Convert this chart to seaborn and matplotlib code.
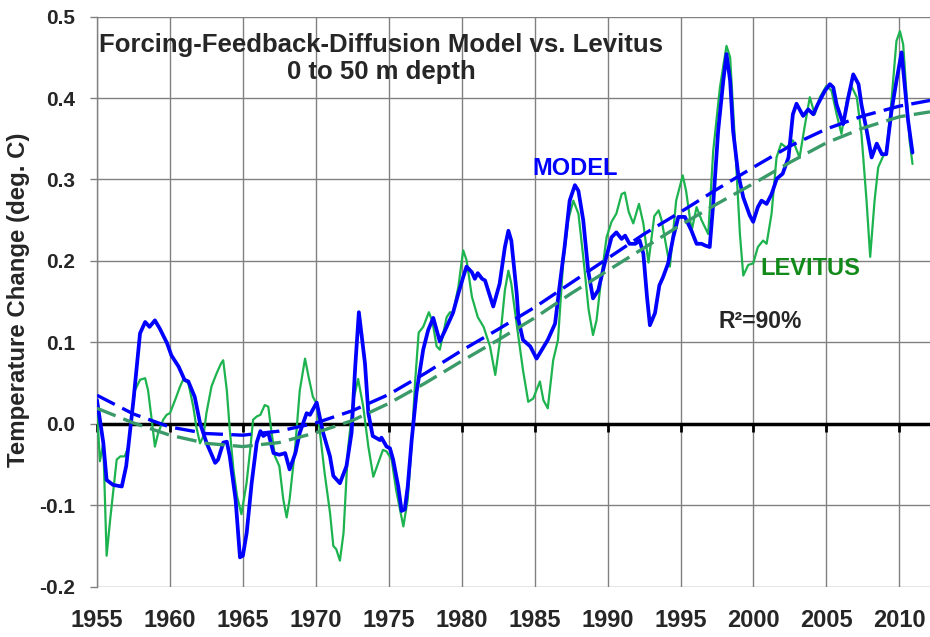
import matplotlib
matplotlib.use("Agg")
import matplotlib.pyplot as plt
import seaborn as sns

# model run (blue)
model_year = [
    1955.0, 1955.43, 1955.66, 1956.1, 1956.7, 1957.0, 1957.5, 1957.95, 1958.3, 1958.6,
    1958.97, 1959.3, 1959.8, 1960.1, 1960.6, 1961.0, 1961.26, 1961.7, 1962.06, 1962.5,
    1963.1, 1963.3, 1963.66, 1963.9, 1964.1, 1964.5, 1964.8, 1965.0, 1965.26, 1965.6,
    1965.95, 1966.2, 1966.4, 1966.74, 1967.1, 1967.5, 1967.9, 1968.2, 1968.6, 1968.9,
    1969.37, 1969.6, 1970.06, 1970.5, 1970.97, 1971.2, 1971.65, 1972.1, 1972.45, 1972.7,
    1972.95, 1973.37, 1973.6, 1973.9, 1974.4, 1974.5, 1974.85, 1975.08, 1975.3, 1975.65,
    1975.88, 1976.1, 1976.3, 1976.57, 1976.9, 1977.36, 1977.7, 1978.05, 1978.5, 1978.97,
    1979.4, 1979.77, 1980.1, 1980.33, 1980.7, 1980.9, 1981.1, 1981.4, 1981.6, 1982.16,
    1982.6, 1982.96, 1983.2, 1983.4, 1983.77, 1983.9, 1984.2, 1984.7, 1985.13, 1985.5,
    1985.9, 1986.4, 1986.7, 1987.05, 1987.4, 1987.76, 1988.0, 1988.33, 1988.67, 1989.0,
    1989.36, 1989.8, 1990.27, 1990.6, 1990.96, 1991.2, 1991.5, 1991.9, 1992.2, 1992.45,
    1992.7, 1992.9, 1993.25, 1993.55, 1993.8, 1994.15, 1994.5, 1994.85, 1995.3, 1995.75,
    1996.1, 1996.44, 1996.67, 1997.0, 1997.24, 1997.58, 1997.93, 1998.15, 1998.4, 1998.6,
    1998.95, 1999.3, 1999.74, 1999.98, 2000.3, 2000.55, 2000.9, 2001.24, 2001.6, 2002.0,
    2002.4, 2002.7, 2002.95, 2003.4, 2003.75, 2004.1, 2004.4, 2004.9, 2005.24, 2005.47,
    2005.7, 2006.15, 2006.5, 2006.84, 2007.2, 2007.4, 2007.76, 2008.1, 2008.45, 2008.8,
    2009.1, 2009.46, 2009.8, 2010.15, 2010.38, 2010.6, 2010.9,
]
model_temp = [
    0.029, -0.023, -0.069, -0.075, -0.077, -0.052, 0.029, 0.111, 0.125, 0.119,
    0.127, 0.117, 0.099, 0.084, 0.070, 0.054, 0.052, 0.033, 0.001, -0.023,
    -0.048, -0.044, -0.023, -0.022, -0.040, -0.093, -0.164, -0.162, -0.134, -0.073,
    -0.023, -0.009, -0.015, -0.011, -0.036, -0.038, -0.036, -0.056, -0.036, -0.011,
    0.013, 0.011, 0.026, -0.011, -0.040, -0.064, -0.073, -0.052, -0.011, 0.070,
    0.137, 0.074, 0.013, -0.015, -0.020, -0.017, -0.028, -0.030, -0.044, -0.077,
    -0.107, -0.105, -0.077, -0.020, 0.038, 0.091, 0.115, 0.130, 0.101, 0.119,
    0.136, 0.160, 0.180, 0.193, 0.186, 0.178, 0.185, 0.178, 0.176, 0.144,
    0.172, 0.217, 0.237, 0.225, 0.160, 0.127, 0.103, 0.095, 0.080, 0.091,
    0.103, 0.123, 0.168, 0.217, 0.274, 0.293, 0.286, 0.250, 0.188, 0.154,
    0.164, 0.197, 0.229, 0.235, 0.227, 0.231, 0.221, 0.221, 0.225, 0.209,
    0.156, 0.121, 0.136, 0.170, 0.180, 0.197, 0.229, 0.254, 0.254, 0.237,
    0.221, 0.221, 0.219, 0.217, 0.270, 0.360, 0.421, 0.454, 0.421, 0.360,
    0.307, 0.278, 0.256, 0.248, 0.266, 0.274, 0.270, 0.282, 0.301, 0.307,
    0.327, 0.380, 0.393, 0.378, 0.386, 0.380, 0.392, 0.409, 0.417, 0.413,
    0.392, 0.368, 0.401, 0.429, 0.417, 0.392, 0.360, 0.327, 0.344, 0.331,
    0.331, 0.384, 0.421, 0.456, 0.413, 0.372, 0.333,
]

# Levitus observations (green)
levitus_year = [
    1955.0, 1955.2, 1955.43, 1955.66, 1955.9, 1956.1, 1956.35, 1956.6, 1956.9, 1957.15,
    1957.4, 1957.6, 1957.95, 1958.3, 1958.5, 1958.75, 1958.97, 1959.2, 1959.54, 1959.77,
    1960.0, 1960.35, 1960.7, 1960.9, 1961.26, 1961.6, 1961.8, 1962.06, 1962.3, 1962.5,
    1962.85, 1963.2, 1963.5, 1963.65, 1963.9, 1964.1, 1964.35, 1964.6, 1964.9, 1965.25,
    1965.5, 1965.7, 1965.95, 1966.2, 1966.5, 1966.74, 1966.97, 1967.2, 1967.5, 1967.77,
    1968.0, 1968.2, 1968.57, 1968.9, 1969.26, 1969.5, 1969.8, 1970.05, 1970.28, 1970.6,
    1970.97, 1971.2, 1971.4, 1971.65, 1971.9, 1972.2, 1972.57, 1972.9, 1973.25, 1973.6,
    1973.94, 1974.28, 1974.6, 1974.85, 1975.2, 1975.5, 1976.0, 1976.3, 1976.57, 1976.8,
    1977.05, 1977.36, 1977.75, 1978.0, 1978.28, 1978.5, 1978.97, 1979.2, 1979.4, 1979.77,
    1980.1, 1980.33, 1980.7, 1981.1, 1981.5, 1981.94, 1982.3, 1982.6, 1982.96, 1983.2,
    1983.4, 1983.8, 1984.2, 1984.56, 1984.9, 1985.36, 1985.6, 1985.9, 1986.27, 1986.6,
    1986.95, 1987.3, 1987.65, 1988.0, 1988.33, 1988.7, 1989.0, 1989.24, 1989.6, 1989.93,
    1990.27, 1990.6, 1990.96, 1991.18, 1991.45, 1991.76, 1992.15, 1992.45, 1992.8, 1993.2,
    1993.5, 1993.7, 1994.27, 1994.7, 1995.15, 1995.38, 1995.76, 1996.1, 1996.44, 1996.9,
    1997.24, 1997.7, 1998.15, 1998.4, 1998.7, 1999.07, 1999.3, 1999.64, 1999.98, 2000.3,
    2000.66, 2000.9, 2001.24, 2001.58, 2001.9, 2002.26, 2002.7, 2003.16, 2003.5, 2003.86,
    2004.2, 2004.55, 2005.0, 2005.35, 2005.7, 2006.03, 2006.4, 2006.7, 2007.08, 2007.4,
    2007.75, 2008.0, 2008.3, 2008.55, 2008.9, 2009.1, 2009.46, 2009.8, 2010.04, 2010.26,
    2010.5, 2010.7, 2010.9,
]
levitus_temp = [
    0.017, -0.046, -0.024, -0.162, -0.118, -0.085, -0.044, -0.040, -0.040, -0.028,
    0.013, 0.041, 0.054, 0.056, 0.041, 0.005, -0.028, -0.011, 0.005, 0.011,
    0.013, 0.029, 0.046, 0.054, 0.050, 0.021, -0.003, -0.024, -0.015, 0.013,
    0.046, 0.062, 0.074, 0.078, 0.041, -0.007, -0.056, -0.089, -0.111, -0.073,
    -0.032, 0.005, 0.009, 0.011, 0.023, 0.021, -0.011, -0.040, -0.052, -0.093,
    -0.115, -0.093, -0.032, 0.041, 0.080, 0.058, 0.033, 0.025, -0.011, -0.060,
    -0.109, -0.150, -0.154, -0.168, -0.134, -0.032, 0.029, 0.055, 0.021, -0.028,
    -0.065, -0.048, -0.032, -0.034, -0.044, -0.081, -0.126, -0.093, -0.024, 0.050,
    0.112, 0.119, 0.137, 0.125, 0.095, 0.091, 0.131, 0.137, 0.136, 0.168,
    0.213, 0.201, 0.156, 0.131, 0.119, 0.095, 0.060, 0.099, 0.164, 0.188,
    0.172, 0.118, 0.066, 0.027, 0.031, 0.052, 0.029, 0.019, 0.078, 0.103,
    0.197, 0.250, 0.274, 0.258, 0.205, 0.140, 0.109, 0.127, 0.184, 0.229,
    0.248, 0.258, 0.282, 0.284, 0.260, 0.246, 0.270, 0.246, 0.198, 0.255,
    0.262, 0.250, 0.193, 0.274, 0.305, 0.286, 0.237, 0.266, 0.250, 0.233,
    0.335, 0.413, 0.464, 0.450, 0.356, 0.233, 0.182, 0.195, 0.197, 0.217,
    0.225, 0.221, 0.258, 0.327, 0.344, 0.339, 0.348, 0.327, 0.364, 0.401,
    0.380, 0.401, 0.415, 0.409, 0.380, 0.356, 0.397, 0.415, 0.401, 0.356,
    0.274, 0.205, 0.274, 0.315, 0.329, 0.331, 0.397, 0.470, 0.482, 0.466,
    0.401, 0.348, 0.319,
]

# fitted trend curves (dashed)
trend_year = [1955, 1957.5, 1960, 1962.5, 1965, 1967.5, 1970, 1972.5, 1975, 1977.5,
              1980, 1982.5, 1985, 1987.5, 1990, 1992.5, 1995, 1997.5, 2000, 2002.5,
              2005, 2007.5, 2010, 2012.1]
model_trend = [0.035, 0.012, -0.004, -0.012, -0.014, -0.009, 0.001, 0.016, 0.036, 0.062,
               0.090, 0.116, 0.143, 0.173, 0.203, 0.233, 0.260, 0.288, 0.315, 0.341,
               0.362, 0.378, 0.390, 0.397]
levitus_trend = [0.019, 0.001, -0.014, -0.024, -0.028, -0.023, -0.011, 0.004, 0.025, 0.050,
                 0.077, 0.103, 0.130, 0.160, 0.188, 0.216, 0.244, 0.270, 0.295, 0.321,
                 0.345, 0.363, 0.377, 0.383]

year_ticks = [1955, 1960, 1965, 1970, 1975, 1980, 1985, 1990, 1995, 2000, 2005, 2010]
temp_ticks = [-0.2, -0.1, 0.0, 0.1, 0.2, 0.3, 0.4, 0.5]


def main():
    sns.set_style("white")
    plt.rcParams['font.family'] = ['Liberation Sans', 'DejaVu Sans']

    fig = plt.figure(figsize=(9.3, 6.37), dpi=100)
    ax = fig.add_axes([0.1043, 0.079, 0.8957, 0.895])

    blue = '#0000ff'
    green = '#1db34f'
    green_dash = '#3a9a68'

    # black zero line with small tick marks hanging below it
    ax.axhline(0, color='black', lw=2.5, zorder=1.5)
    ax.plot(year_ticks, [0] * len(year_ticks), ls='none', marker=3, ms=6, mew=2,
            color='black', zorder=1.5, clip_on=False)

    sns.lineplot(x=levitus_year, y=levitus_temp, ax=ax, color=green, lw=1.6,
                 sort=False, estimator=None, zorder=3)
    sns.lineplot(x=model_year, y=model_temp, ax=ax, color=blue, lw=2.7,
                 sort=False, estimator=None, zorder=4)
    sns.lineplot(x=trend_year, y=levitus_trend, ax=ax, color=green_dash, lw=2.4,
                 linestyle=(0, (6, 2.5)), sort=False, estimator=None, zorder=5)
    sns.lineplot(x=trend_year, y=model_trend, ax=ax, color=blue, lw=2.4,
                 linestyle=(0, (6, 2.5)), sort=False, estimator=None, zorder=6)

    ax.set_xlim(1955, 2012.1)
    ax.set_ylim(-0.2, 0.5)
    ax.set_xticks(year_ticks)
    ax.set_yticks(temp_ticks)
    ax.set_xticklabels([str(y) for y in year_ticks], fontsize=17, fontweight='bold')
    ax.set_yticklabels(['%.1f' % t for t in temp_ticks], fontsize=15, fontweight='bold')
    ax.tick_params(axis='x', length=0, pad=16)
    ax.tick_params(axis='y', left=True, length=5, width=1, color='#808080', pad=11,
                   direction='out')
    ax.grid(True, color='#808080', lw=1, zorder=0)
    ax.set_axisbelow(True)
    for side in ['top', 'right', 'bottom']:
        ax.spines[side].set_visible(False)
    ax.spines['left'].set_color('#808080')
    ax.spines['left'].set_linewidth(1)
    ax.set_xlabel('')
    ax.set_ylabel('')

    fig.text(19 / 930, 0.529, 'Temperature Change (deg. C)', rotation=90,
             ha='center', va='center', fontsize=17.3, fontweight='bold')

    ax.text(1974.47, 0.449, 'Forcing-Feedback-Diffusion Model vs. Levitus\n0 to 50 m depth',
            ha='center', va='center', fontsize=18.5, fontweight='bold', linespacing=1.15)
    ax.text(1987.76, 0.313, 'MODEL', color=blue, ha='center', va='center',
            fontsize=17, fontweight='bold')
    ax.text(2003.87, 0.191, 'LEVITUS', color='#118a1a', ha='center', va='center',
            fontsize=17, fontweight='bold')
    ax.text(2000.44, 0.125, 'R²=90%', ha='center', va='center',
            fontsize=16.5, fontweight='bold')

    fig.savefig('out.png', dpi=100)
    plt.close(fig)


if __name__ == "__main__":
    main()
